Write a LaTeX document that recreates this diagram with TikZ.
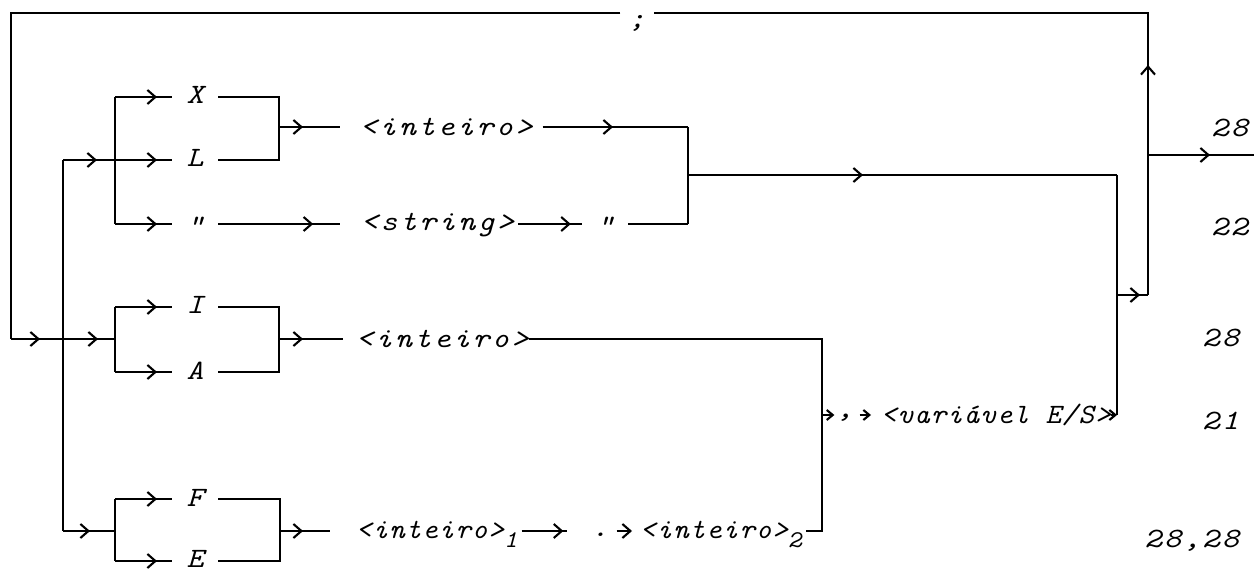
\documentclass[tikz,border=0pt]{standalone}
\usepackage{fontspec}
\usetikzlibrary{arrows.meta,decorations.markings,calc}
\newfontfamily\diagfont{Latin Modern Mono}[FakeStretch=1.15,LetterSpace=9]
\newfontfamily\diagfonttight{Latin Modern Mono}[FakeStretch=1.05,LetterSpace=4]
\newcommand{\lowidx}[1]{\raisebox{-9pt}{\fontsize{24}{24}\selectfont #1}}

\tikzset{
  wire/.style={line width=2.1pt},
  barbtip/.tip={Straight Barb[length=8pt,width=14pt]},
  smalltip/.tip={Straight Barb[length=6pt,width=10pt]},
  arrowat/.style={postaction={decorate,decoration={markings,
      mark=at position #1pt with {\arrow{barbtip}}}}},
  lbl/.style={font=\diagfont\itshape\fontsize{28}{32}\selectfont, inner sep=0pt},
  tightlbl/.style={font=\diagfonttight\itshape\fontsize{28}{32}\selectfont},
  kw/.style={lbl, minimum width=46pt, anchor=base},
  txt/.style={lbl, anchor=base west},
  num/.style={lbl, anchor=base east},
}

\begin{document}
\begin{tikzpicture}[x=1pt,y=-1pt]
\useasboundingbox (0,0) rectangle (1254,572);

% junction points of the syntax graph
\coordinate (tl) at (11,13);
\coordinate (tr) at (1148,13);
\coordinate (entry) at (11,339);
\coordinate (sL) at (63,160);
\coordinate (sFE) at (63,531);
\coordinate (aTop) at (115,97);
\coordinate (aBot) at (115,224);
\coordinate (bTop) at (115,307);
\coordinate (bMid) at (115,339);
\coordinate (bBot) at (115,372);
\coordinate (cTop) at (115,499);
\coordinate (cMid) at (115,531);
\coordinate (cBot) at (115,561);
\coordinate (aRT) at (279,97);
\coordinate (aRM) at (279,127);
\coordinate (aRB) at (279,160);
\coordinate (bRT) at (279,307);
\coordinate (bRM) at (279,339);
\coordinate (bRB) at (279,372);
\coordinate (cRT) at (280,499);
\coordinate (cRM) at (280,531);
\coordinate (cRB) at (280,561);
\coordinate (dTop) at (688,127);
\coordinate (dMid) at (688,175);
\coordinate (dBot) at (688,224);
\coordinate (eTop) at (822,339);
\coordinate (eMid) at (822,415);
\coordinate (eBot) at (822,531);
\coordinate (fTop) at (1117,175);
\coordinate (fMid) at (1117,295);
\coordinate (fBot) at (1117,415);
\coordinate (gBot) at (1148,295);
\coordinate (gOut) at (1148,155);
\coordinate (exit) at (1254,155);

% terminal symbols
\node[kw] (X) at (195,104) {X};
\node[kw] (L) at (195,167) {L};
\node[kw] (Q) at (195,235) {"};
\node[kw] (I) at (195,314) {I};
\node[kw] (A) at (195,379) {A};
\node[kw] (F) at (195,506) {F};
\node[kw] (E) at (195,567) {E};
\node[kw] (Q2) at (605,235) {"};
\node[lbl, anchor=base] (semi) at (637,28) {;};
\node[lbl, anchor=base] (dot) at (600,536) {.};
\node[lbl, anchor=base] (comma) at (845,417) {,};

% non-terminals
\node[txt] (int1) at (360,136) {<inteiro>};
\node[txt] (str) at (361,231) {<string>};
\node[txt] (int2) at (356,347) {<inteiro>};
\node[txt, tightlbl] (int3) at (356,538) {<inteiro>\lowidx{1}};
\node[txt, tightlbl] (int4) at (640,538) {<inteiro>\lowidx{2}};
\node[txt, tightlbl] (var) at (881,423) {<variável E/S>};

% reference numbers
\node[num] (r1) at (1248,137) {28};
\node[num] (r2) at (1248,236) {22};
\node[num] (r3) at (1239,346) {28};
\node[num] (r4) at (1239,429) {21};
\node[num] (r5) at (1239,547) {28,\hspace{2pt}28};

% repetition loop
\draw[wire, arrowat=230] (gBot) -- (tr) -- ($(semi.east |- tr)+(8,0)$);
\draw[wire] ($(semi.west |- tl)+(-8,0)$) -- (tl) -- (entry);
\draw[wire, arrowat=29, arrowat=87] (entry) -- (bMid);

% X / L / " branch
\draw[wire, arrowat=34, arrowat=94] (sL) -- (sL -| L.west);
\draw[wire] (sL) -- (sFE);
\draw[wire] (aTop) -- (aBot);
\draw[wire, arrowat=42] (aTop) -- (aTop -| X.west);
\draw[wire, arrowat=42] (aBot) -- (aBot -| Q.west);
\draw[wire] (X.east |- aRT) -- (aRT) -- (aRB) -- (L.east |- aRB);
\draw[wire, arrowat=24] (aRM) -- ($(int1.west |- aRM)+(-20,0)$);
\draw[wire, arrowat=-75] ($(int1.east |- aRM)+(10,0)$) -- (dTop);
\draw[wire, arrowat=95] (Q.east |- aBot) -- ($(str.west |- aBot)+(-21,0)$);
\draw[wire, arrowat=-11] ($(str.east |- aBot)+(4,0)$) -- (Q2.west |- aBot);
\draw[wire] (Q2.east |- aBot) -- (dBot);
\draw[wire] (dTop) -- (dBot);
\draw[wire, arrowat=175] (dMid) -- (fTop);
\draw[wire] (fTop) -- (fBot);
\draw[wire, arrowat=23] (fMid) -- (gBot);
\draw[wire, arrowat=62] (gOut) -- (exit);

% I / A branch
\draw[wire] (bTop) -- (bBot);
\draw[wire, arrowat=42] (bTop) -- (bTop -| I.west);
\draw[wire, arrowat=42] (bBot) -- (bBot -| A.west);
\draw[wire] (I.east |- bRT) -- (bRT) -- (bRB) -- (A.east |- bRB);
\draw[wire, arrowat=24] (bRM) -- ($(int2.west |- bRM)+(-13,0)$);
\draw[wire] (int2.east |- bRM) -- (eTop) -- (eBot) -- ($(int4.east |- eBot)+(4,0)$);

% F / E branch
\draw[wire, arrowat=27] (sFE) -- (cMid);
\draw[wire] (cTop) -- (cBot);
\draw[wire, arrowat=42] (cTop) -- (cTop -| F.west);
\draw[wire, arrowat=42] (cBot) -- (cBot -| E.west);
\draw[wire] (F.east |- cRT) -- (cRT) -- (cRB) -- (E.east |- cRB);
\draw[wire, arrowat=23] (cRM) -- ($(int3.west |- cRM)+(-26,0)$);
\draw[wire, arrowat=-4] ($(int3.east |- cRM)+(4,0)$) -- ($(dot.west |- cRM)+(-24,0)$);
\draw[wire, -barbtip] ($(dot.east |- cRM)+(8,0)$) -- ($(int4.west |- cRM)+(-8,0)$);

% list of variables
\draw[wire, -smalltip] (eMid) -- ($(comma.west |- eMid)+(-2,0)$);
\draw[wire, -smalltip] ($(comma.east |- eMid)+(6,0)$) -- ($(var.west |- eMid)+(-10,0)$);
\draw[wire, -smalltip] (var.east |- eMid) -- (fBot);
\end{tikzpicture}
\end{document}
